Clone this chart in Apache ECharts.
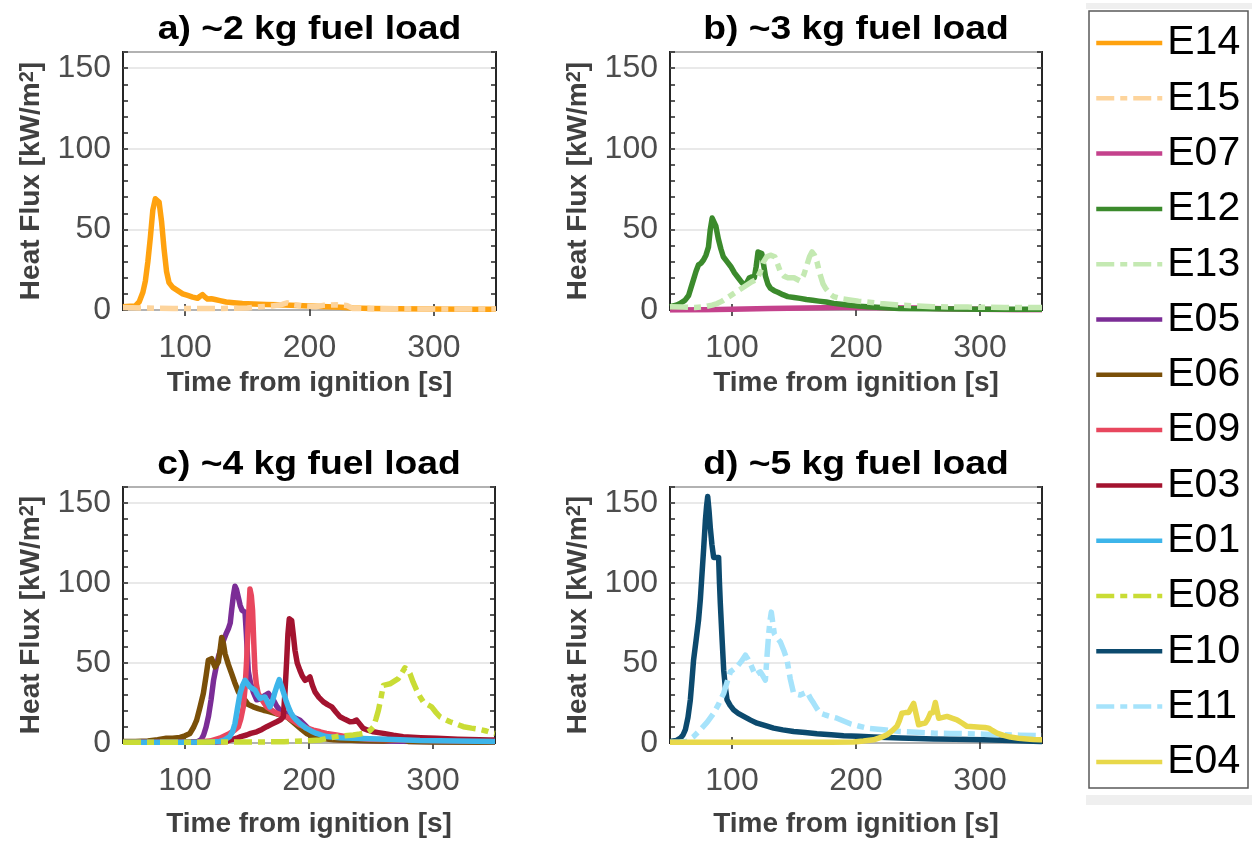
<!DOCTYPE html>
<html><head><meta charset="utf-8">
<script src="https://cdn.jsdelivr.net/npm/echarts@6/dist/echarts.min.js"></script>
<style>html,body{margin:0;padding:0;background:#fff}#c{width:1257px;height:841px}</style>
</head><body><div id="c"></div>
<script>
// ---------------- data ----------------
const panelTitles = ['a) ~2 kg fuel load', 'b) ~3 kg fuel load', 'c) ~4 kg fuel load', 'd) ~5 kg fuel load'];
const panelSeries = [['E14','E15'], ['E07','E12','E13'], ['E05','E06','E09','E03','E01','E08'], ['E10','E11','E04']];
const legendOrder = ['E14','E15','E07','E12','E13','E05','E06','E09','E03','E01','E08','E10','E11','E04'];
const xTickValues = [100, 200, 300];
const xName = 'Time from ignition [s]';

const e14 = [[50,2],[56,2.3],[60,2.5],[63,5],[66,11],[68,18],[70,30],[72,45],[74,62],[76,69],[77,70],[79,67],[81,55],[83,38],[85,24],[87,17],[90,14],[94,12],[98,10],[102,9],[106,8],[110,7.3],[112,8.5],[114,9.5],[116,8],[118,6.8],[121,7],[124,6.5],[128,5.8],[133,5],[139,4.5],[146,4],[155,3.7],[165,3.4],[175,3.2],[185,3],[195,2.7],[205,2.3],[215,2],[225,1.7],[235,1.3],[250,1],[270,0.8],[300,0.6],[330,0.5],[350,0.5]];
const e15 = [[50,1.5],[70,1.2],[90,1],[110,1],[130,1],[150,1.2],[160,2],[170,2.5],[178,3.5],[182,4.5],[186,3.5],[195,2.5],[205,2],[212,3],[222,3.2],[230,2.8],[235,1],[250,0.8],[280,0.7],[310,0.6],[350,0.6]];
const e07 = [[50,0],[80,0.2],[100,0.5],[130,0.9],[160,1.2],[190,1.5],[220,1.4],[250,1.2],[270,0.8],[300,0.4],[330,0.2],[350,0.2]];
const e12 = [[50,2],[55,3],[58,4],[62,6],[65,9],[67,14],[69,19],[71,24],[73,28],[75,29],[77,31],[79,34],[81,39],[82.5,50],[84,57],[85.5,57],[87,52],[89,44],[91,38],[93,33],[96,30],[99,27],[102,23],[105,20],[108,17],[110,15.5],[112,17],[114,20],[116,20.5],[118,20],[119.5,27],[121,36],[122.5,37],[124,35],[125.5,28],[127,21],[129,16],[131,13.5],[134,12],[137,11],[141,9.5],[145,8.3],[150,7.8],[155,7.2],[160,6.5],[165,6],[170,5.5],[176,5],[182,4.1],[188,3.6],[195,2.9],[202,2.4],[209,2],[220,1.5],[235,1],[260,0.7],[300,0.5],[350,0.4]];
const e13 = [[50,2],[60,1.8],[70,1.5],[78,2],[84,3],[88,4],[92,5.5],[96,7.5],[101,10],[106,12.5],[112,15.5],[116,17.5],[120,19],[123,24],[125.5,30],[128,33],[131,34],[134.5,33],[137,28],[139,23.7],[142,21],[145,20],[150,20],[155,18],[158,22],[160.5,28],[162.5,33],[164.5,36],[166.5,34],[168.5,30],[170,25],[171.5,21],[173.5,16],[175.5,13.4],[179,10],[182,8.3],[188,7],[195,6.2],[202,5.5],[209,5],[220,4],[235,3],[250,2.5],[262,2],[290,1.8],[320,1.6],[350,1.5]];
const e05 = [[50,0.5],[100,0.5],[110,0.8],[113,2],[115,5],[117,10],[119,17],[121,27],[123,39],[125,47],[127,54],[129,59],[131,64],[133,68],[135,71.5],[136.5,75],[137.6,83],[139,92],[140.3,98],[141.5,96],[143,91],[144.5,86],[146,83],[148.4,81.7],[149.5,68],[151,45],[153,37],[155,32],[157.8,27],[160.5,27.5],[163.2,29],[165,30],[167.2,31],[169,29],[171.2,27],[174,23],[176.6,20.5],[180,19],[184.7,17.4],[188,16],[192.7,14.3],[197,11],[200.8,8],[205,5.5],[209,4],[215,2.8],[225,2],[240,1.5],[260,1.2],[290,1],[320,0.8],[350,0.6]];
const e06 = [[50,1],[60,1],[70,1.2],[78,2],[85,3],[90,3],[96,3.5],[100,4.5],[104,6],[107,10],[109.4,14.3],[112,22],[114.8,31],[117,42],[118.8,51.7],[121.5,52.7],[124.2,47.5],[126.9,50.6],[128.3,58],[129.6,66],[131,62],[132.3,55.8],[135,49],[137.6,43.4],[140,38],[143,32],[145.5,29],[148.4,26.8],[151,24],[155,22.6],[159,21.5],[163.2,20.5],[167,19.8],[171.2,18.9],[176,17.8],[182,16.4],[186,13.8],[190,11.2],[194,8.5],[198,6],[203,4.2],[209,2.9],[220,2],[240,1.5],[260,1.3],[270,2],[275,2.2],[280,1],[300,0.7],[350,0.5]];
const e09 = [[50,0.5],[110,0.7],[120,1.2],[128,3],[136,6],[140,8],[143,10],[145,15],[147,22.6],[148.5,35],[149.7,51.7],[151,75],[152.4,96.3],[153.5,92],[154.5,82.8],[155.5,62],[156.4,45.4],[157.5,37],[159,31],[162,27],[165.9,22.6],[170,20.5],[174,18.5],[178,17.4],[182,16.4],[187,14],[192.7,11.2],[198,9.5],[203.5,8],[209,7],[214,6],[222,5],[230,4],[240,3],[249,2.3],[276,1.9],[300,1.5],[350,1]];
const e03 = [[50,0.5],[100,0.5],[125,0.6],[133.6,1],[137,2],[141.7,3],[145,4],[149.7,5],[153,6],[157.8,7],[162,8.5],[165.9,10.2],[170,11.8],[174,13.3],[177,14.5],[179.3,16.4],[180.5,30],[182,51.7],[183,68],[184.1,77.6],[186,76.6],[187.3,68],[188.7,57.9],[190.5,50],[192.7,45.4],[194.5,42],[196.8,39.2],[198.8,40],[200.8,41.3],[202.8,36],[204.8,32],[208,28.5],[211.6,25.7],[215,24],[218.3,22.6],[221.5,19.5],[225,16.4],[229,14.8],[233,13.3],[236,13.5],[238.4,14.3],[241,11.8],[243.8,9.1],[247.5,8],[251.9,7],[256,6.5],[260,6],[268,4.8],[276,3.9],[290,3.3],[303,2.9],[320,2.4],[346,1.9],[350,1.8]];
const e01 = [[50,0.5],[100,0.5],[120,0.7],[128,1],[132,2],[136,4],[138.3,7],[140.3,12.2],[142.4,22],[144.4,31],[146.4,36],[148.4,39.2],[150.4,37],[152.4,35],[154.5,34],[156.5,33],[158.5,30],[160.5,27.8],[162.5,28.5],[164.5,28.8],[166.5,25.5],[168.5,22.6],[170.5,26],[172.6,32],[174.3,36],[176,39.6],[177.6,36],[179.3,32],[181.3,27],[183.3,22.6],[185.3,19],[187.4,16.4],[190,14.2],[192.7,12.2],[195.4,10.6],[198,9.1],[202,7.4],[206,6],[210,5],[214,4],[225,3.3],[235.7,2.9],[262.6,2.3],[289.5,1.5],[320,1.2],[350,1]];
const e08 = [[50,0.5],[100,0.5],[150,0.6],[180,0.8],[195,1.2],[209,1.9],[215,3],[222,4],[229,4.6],[235.7,5],[241,5.6],[246.5,6.4],[249.5,8],[251.9,10],[254,15],[256,20.5],[258,28],[260,36],[262.5,36.5],[265.3,37],[268.5,38.5],[272,40.2],[275,44],[277.4,47],[279.5,45.5],[281.4,43.4],[284,38],[286.8,33],[289.5,29],[292.2,25.7],[295.5,24],[298.9,22.6],[302,19.5],[305.6,16.4],[309.5,14.8],[313.7,13.3],[319,11.8],[324.5,10.2],[331,9.3],[337.9,8.5],[343,7.5],[347.3,6.4],[350,6]];
const e10 = [[50,1],[55,1.5],[58.3,3],[60.5,5],[62.4,8.3],[64.5,16],[66.4,27],[67.8,40],[69,51.8],[71,64],[73,76.6],[74.5,90],[75.8,105.6],[77.2,122],[78.5,138.7],[79.5,148],[80.4,154],[81.5,145],[82.5,134.6],[83.8,124],[85.2,116],[87.2,116],[89.2,116],[89.9,100],[90.6,87],[92,65],[93.3,45.5],[94.6,35],[96,27],[98.5,23.5],[101.3,20.7],[105,18.5],[109.4,16.6],[115,14.3],[120.2,12.4],[127,10.8],[133.6,9.3],[141,8.2],[149.7,7.2],[159,6.5],[168.5,5.8],[180,5.2],[190,4.6],[202,4.2],[214.2,3.7],[225,3.4],[235.8,3.1],[250,2.8],[262.6,2.5],[280,2.3],[303,2],[325,1.6],[348.7,1],[350,1]];
const e11 = [[50,0.5],[58,0.6],[63.7,1],[69,4],[74.5,8.3],[80,13],[85.2,18.6],[89,24],[93.3,31],[96,38],[98.7,44.5],[101.3,46],[104,47.6],[107.5,51],[110.8,54.9],[112.8,52.5],[114.8,49.7],[116.8,46],[118.8,42.4],[120.8,43.5],[122.8,44.5],[124.9,42],[126.9,39.3],[128.3,55],[129.6,68.3],[130.6,76],[131.7,81.8],[132.9,75],[134.1,68.3],[136.5,65.5],[139,63.1],[141.7,58],[144.4,51.8],[147,40],[149.7,31],[152.3,30.5],[155,30],[157.8,31],[160.5,32],[163.2,28],[165.9,24.8],[168.5,21.5],[171.2,18.6],[175.3,17.5],[179.3,16.6],[184.7,15.5],[190,13.8],[195.4,12],[202,10.6],[208.9,9.3],[215.6,8.8],[222.3,8.3],[229,7.7],[235.8,7.2],[249,6.7],[262.6,6.2],[276,6],[289.5,5.8],[303,5.5],[316.4,5.2],[332,4.9],[348.7,4.6],[350,4.6]];
const e04 = [[50,0.5],[100,0.5],[150,0.5],[180,0.5],[198,0.6],[206,1.2],[214.2,2],[220,3.5],[225,5.2],[229,7.5],[233,10.4],[235,14],[237,18.6],[239.8,19],[242.5,19],[244.5,22],[246.5,24.8],[248.5,18],[250.5,11.4],[253,12],[255.9,12.4],[258,15],[260,18.6],[262,19],[264,25.3],[265.4,20],[266.7,15.5],[270,16],[273.4,16.6],[277.4,15.5],[281.4,14.5],[285.5,12.5],[289.5,10.4],[295,10.1],[300.3,9.9],[304,9.7],[307,9.3],[310,7.8],[313.7,6.2],[319,4.8],[324.5,3.7],[331,3],[337.9,2.5],[343,2.2],[348.7,2],[350,2]];

const seriesData = {E14:e14,E15:e15,E07:e07,E12:e12,E13:e13,E05:e05,E06:e06,E09:e09,E03:e03,E01:e01,E08:e08,E10:e10,E11:e11,E04:e04};

// ---------------- styles ----------------
const FONT = 'Liberation Sans, Arial, sans-serif';
const colors = {E14:'#ffa20f',E15:'#fdd49c',E07:'#c4428c',E12:'#3b8a2c',E13:'#c4e9b2',E05:'#7b2d96',E06:'#7a4f08',
  E09:'#e8475e',E03:'#a3132f',E01:'#3db5ea',E08:'#c9dc35',E10:'#0c4a6e',E11:'#a6e3fb',E04:'#e8d84a'};
const dashed = {E15:true,E13:true,E08:true,E11:true};
const DASH = [18,6,7,6];

const layouts = [
  {left:123, top:52, width:373, height:258, xGap:59},
  {left:670, top:52, width:372, height:258, xGap:59},
  {left:123, top:487, width:372, height:256, xGap:67},
  {left:670, top:487, width:372, height:256, xGap:67}
];

const grid = [], xAxis = [], yAxis = [], series = [], graphic = [];
layouts.forEach((L, i) => {
  grid.push({left:L.left, top:L.top, width:L.width, height:L.height, show:true,
    borderColor:'#262626', borderWidth:2, backgroundColor:'#fff', containLabel:false});
  xAxis.push({type:'value', gridIndex:i, min:50, max:350, position:'bottom',
    name:xName, nameLocation:'middle', nameGap:L.xGap,
    nameTextStyle:{fontFamily:FONT, fontSize:28, fontWeight:'bold', color:'#404040'},
    axisLine:{show:false}, splitLine:{show:false},
    axisTick:{show:true, inside:true, length:6, customValues:xTickValues, lineStyle:{color:'#262626', width:1.5}},
    axisLabel:{customValues:xTickValues, fontFamily:FONT, fontSize:32, color:'#4d4d4d', margin:22}});
  xAxis.push({type:'value', gridIndex:i, min:50, max:350, position:'top',
    axisLine:{show:false}, splitLine:{show:false}, axisLabel:{show:false},
    axisTick:{show:true, inside:true, length:6, customValues:xTickValues, lineStyle:{color:'#262626', width:1.5}}});
  yAxis.push({type:'value', gridIndex:i, min:0, max:160, interval:50, position:'left',
    name:'{n|Heat Flux [kW/m}{s|2}{n|]}', nameLocation:'middle', nameGap:78, nameRotate:90,
    nameTextStyle:{rich:{
      n:{fontFamily:FONT, fontSize:28, fontWeight:'bold', color:'#404040'},
      s:{fontFamily:FONT, fontSize:20, fontWeight:'bold', color:'#404040', verticalAlign:'top'}}},
    axisLine:{show:false},
    splitLine:{show:true, lineStyle:{color:'#e2e2e2', width:1.5}},
    axisTick:{show:false},
    axisLabel:{showMaxLabel:false, fontFamily:FONT, fontSize:32, color:'#4d4d4d', margin:12}});
  yAxis.push({type:'value', gridIndex:i, min:0, max:160, interval:10, position:'left',
    axisLine:{show:false}, splitLine:{show:false}, axisLabel:{show:false},
    axisTick:{show:true, inside:true, length:5, lineStyle:{color:'#262626', width:1.5}}});
  yAxis.push({type:'value', gridIndex:i, min:0, max:160, interval:10, position:'right',
    axisLine:{show:false}, splitLine:{show:false}, axisLabel:{show:false},
    axisTick:{show:true, inside:true, length:5, lineStyle:{color:'#262626', width:1.5}}});
  graphic.push({type:'text', x:L.left + L.width/2, y:L.top - 22, scaleX:1.13,
    style:{text:panelTitles[i], font:'bold 33px ' + FONT, fill:'#000', textAlign:'center', textVerticalAlign:'middle'}});
  panelSeries[i].forEach(name => {
    series.push({name:name, type:'line', xAxisIndex:2*i, yAxisIndex:3*i, data:seriesData[name],
      symbol:'none', showSymbol:false, clip:true, animation:false,
      lineStyle:{color:colors[name], width:5.5, type: dashed[name] ? DASH : 'solid', join:'round'},
      itemStyle:{color:colors[name]}});
  });
});

// legend frame
graphic.push({type:'rect', shape:{x:1086, y:3, width:166, height:6}, style:{fill:'#efefef'}, z:-1});
graphic.push({type:'rect', shape:{x:1086, y:795, width:166, height:10}, style:{fill:'#efefef'}, z:-1});
graphic.push({type:'rect', shape:{x:1089, y:11, width:159, height:777}, style:{fill:'#fff', stroke:'#5a5a5a', lineWidth:1.5}, z:-1});

const option = {
  backgroundColor:'#fff',
  animation:false,
  grid, xAxis, yAxis, series, graphic,
  legend:{
    data:legendOrder, orient:'vertical', left:1094, top:21, padding:0,
    itemWidth:66, itemHeight:2, itemGap:11.3,
    itemStyle:{opacity:0},
    lineStyle:{width:4.5},
    textStyle:{fontFamily:FONT, fontSize:41, color:'#000', lineHeight:44},
    selectedMode:false
  }
};
const chart = echarts.init(document.getElementById('c'), null, {renderer:'canvas'});
chart.setOption(option);
</script>
</body></html>
